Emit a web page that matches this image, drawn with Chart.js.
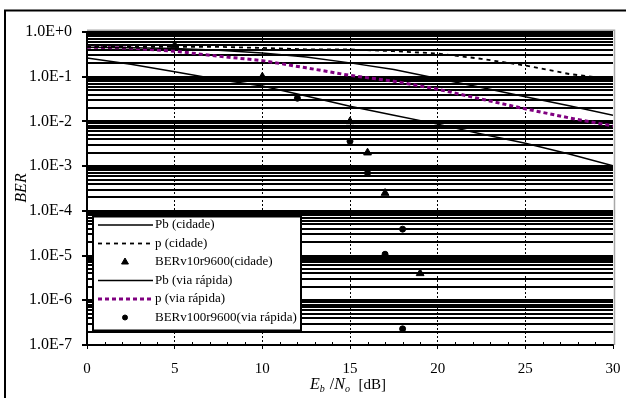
<!DOCTYPE html>
<html>
<head>
<meta charset="utf-8">
<script src="https://cdn.jsdelivr.net/npm/chart.js@4.4.0/dist/chart.umd.min.js"></script>
<style>
    html, body { margin: 0; padding: 0; background: #fff; }
</style>
</head>
<body>
<canvas id="berChart" width="626" height="398"></canvas>
<script>
// curve samples (Eb/No in dB)
const curveX = [0, 2.5, 5, 7.5, 10, 12.5, 15, 17.5, 20, 22.5, 25, 27.5, 30];
const pbCidade = [0.457, 0.447, 0.427, 0.389, 0.339, 0.275, 0.204, 0.145, 0.091, 0.0575, 0.0355, 0.0224, 0.0138];
const pCidade = [0.468, 0.468, 0.468, 0.466, 0.44, 0.41, 0.407, 0.372, 0.331, 0.251, 0.178, 0.115, 0.087];
const pbViaRapida = [0.263, 0.191, 0.129, 0.0871, 0.0617, 0.0372, 0.0219, 0.0138, 0.0087, 0.00525, 0.00324, 0.00186, 0.00102];
const pViaRapida = [0.457, 0.437, 0.372, 0.288, 0.229, 0.158, 0.107, 0.0794, 0.0525, 0.0316, 0.0191, 0.0120, 0.0079];

// simulated points
const berCidadeX = [5, 10, 15, 16, 17, 19];
const berCidadeY = [0.5, 0.1, 0.01, 0.002, 0.00025, 0.000004];
const berViaX = [12, 15, 16, 17, 18, 18];
const berViaY = [0.033, 0.0036, 0.0007, 0.0000107, 0.000039, 0.00000023];

const yTickLabels = ['1.0E-7', '1.0E-6', '1.0E-5', '1.0E-4', '1.0E-3', '1.0E-2', '1.0E-1', '1.0E+0'];
const xTickStep = 5;

const serif = "'Liberation Serif', 'Times New Roman', serif";
const purple = '#800080';

function toPoints(xs, ys) {
    return xs.map((x, i) => ({ x: x, y: ys[i] }));
}

function isDecade(value) {
    const lg = Math.log10(value);
    return Math.abs(lg - Math.round(lg)) < 1e-6;
}

const datasets = [
    {
        label: 'Pb (cidade)', data: toPoints(curveX, pbCidade), showLine: true,
        borderColor: '#000', borderWidth: 1.5, pointRadius: 0
    },
    {
        label: 'p (cidade)', data: toPoints(curveX, pCidade), showLine: true,
        borderColor: '#000', borderWidth: 1.8, borderDash: [4, 4], pointRadius: 0
    },
    {
        label: 'BERv10r9600(cidade)', data: toPoints(berCidadeX, berCidadeY), showLine: false,
        pointStyle: 'triangle', pointRadius: 4.5, backgroundColor: '#000', borderColor: '#000', borderWidth: 1
    },
    {
        label: 'Pb (via rápida)', data: toPoints(curveX, pbViaRapida), showLine: true,
        borderColor: '#000', borderWidth: 1.5, pointRadius: 0
    },
    {
        label: 'p (via rápida)', data: toPoints(curveX, pViaRapida), showLine: true,
        borderColor: purple, borderWidth: 3, borderDash: [4, 3], pointRadius: 0
    },
    {
        label: 'BERv100r9600(via rápida)', data: toPoints(berViaX, berViaY), showLine: false,
        pointStyle: 'circle', pointRadius: 3, backgroundColor: '#000', borderColor: '#000', borderWidth: 1
    }
];

// frame, plot border, minor ticks, axis titles and the boxed legend
const decorPlugin = {
    id: 'decor',
    afterDraw(chart) {
        const ctx = chart.ctx;
        const area = chart.chartArea;
        const xScale = chart.scales.x;

        ctx.save();
        // outer frame (left + top visible)
        ctx.strokeStyle = '#000';
        ctx.lineWidth = 2;
        ctx.beginPath();
        ctx.moveTo(5, 398);
        ctx.lineTo(5, 10.5);
        ctx.lineTo(626, 10.5);
        ctx.stroke();

        // light plot border top/right
        ctx.strokeStyle = '#a8a8a8';
        ctx.lineWidth = 1.5;
        ctx.beginPath();
        ctx.moveTo(area.left, area.top - 1.8);
        ctx.lineTo(area.right + 1.5, area.top - 1.8);
        ctx.lineTo(area.right + 1.5, area.bottom);
        ctx.stroke();

        // minor x ticks pointing inward
        ctx.strokeStyle = '#000';
        ctx.lineWidth = 1;
        xScale.ticks.forEach(t => {
            if (t.value % xTickStep !== 0) {
                const px = Math.round(xScale.getPixelForValue(t.value)) + 0.5;
                ctx.beginPath();
                ctx.moveTo(px, area.bottom);
                ctx.lineTo(px, area.bottom - 3);
                ctx.stroke();
            }
        });

        // y title
        ctx.fillStyle = '#000';
        ctx.font = 'italic 16px ' + serif;
        ctx.textAlign = 'center';
        ctx.textBaseline = 'middle';
        ctx.save();
        ctx.translate(22, 188);
        ctx.rotate(-Math.PI / 2);
        ctx.fillText('BER', 0, 0);
        ctx.restore();

        // x title with subscripts
        const parts = [
            { t: 'E', f: 'italic 16px ', dy: 0 },
            { t: 'b', f: 'italic 10px ', dy: 3 },
            { t: ' /', f: '16px ', dy: 0 },
            { t: 'N', f: 'italic 16px ', dy: 0 },
            { t: 'o', f: 'italic 10px ', dy: 3 },
            { t: '  [dB]', f: '15px ', dy: 0 }
        ];
        ctx.textAlign = 'left';
        ctx.textBaseline = 'alphabetic';
        let tx = 310;
        parts.forEach(p => {
            ctx.font = p.f + serif;
            ctx.fillText(p.t, tx, 389 + p.dy);
            tx += ctx.measureText(p.t).width + (p.t === 'b' || p.t === 'o' ? 1 : 0);
        });

        // legend box
        const box = { left: 93, top: 216.5, right: 301, bottom: 330.5 };
        ctx.fillStyle = '#fff';
        ctx.fillRect(box.left, box.top, box.right - box.left, box.bottom - box.top);
        ctx.strokeStyle = '#000';
        ctx.lineWidth = 2;
        ctx.strokeRect(box.left, box.top, box.right - box.left, box.bottom - box.top);

        ctx.font = '13px ' + serif;
        ctx.textBaseline = 'middle';
        chart.data.datasets.forEach((ds, i) => {
            const y = 225 + i * 18.5;
            if (ds.showLine) {
                ctx.save();
                ctx.strokeStyle = ds.borderColor;
                ctx.lineWidth = ds.borderWidth;
                ctx.setLineDash(ds.borderDash || []);
                ctx.beginPath();
                ctx.moveTo(98, y);
                ctx.lineTo(153, y);
                ctx.stroke();
                ctx.restore();
            } else {
                ctx.fillStyle = '#000';
                ctx.strokeStyle = '#000';
                ctx.lineWidth = 1;
                Chart.helpers.drawPoint(ctx, {
                    pointStyle: ds.pointStyle,
                    radius: ds.pointStyle === 'triangle' ? 4 : 2.5,
                    rotation: 0,
                    borderWidth: 1
                }, 125, y);
            }
            ctx.fillStyle = '#000';
            ctx.fillText(ds.label, 155, y);
        });
        ctx.restore();
    }
};

const ctx = document.getElementById('berChart').getContext('2d');
const berChart = new Chart(ctx, {
    type: 'scatter',
    data: { datasets: datasets },
    options: {
        responsive: false,
        animation: false,
        devicePixelRatio: 1,
        layout: { padding: { top: 32, right: 13, left: 0, bottom: 0 } },
        plugins: {
            legend: { display: false },
            tooltip: { enabled: false }
        },
        elements: { line: { tension: 0 } },
        scales: {
            x: {
                type: 'linear',
                min: 0,
                max: 30,
                afterFit: function(scale) {
                    scale.height = 53;
                    scale.paddingLeft = 0;
                    scale.paddingRight = 0;
                },
                ticks: {
                    stepSize: 1,
                    autoSkip: false,
                    maxRotation: 0,
                    padding: 11,
                    color: '#000',
                    font: { family: serif, size: 15 },
                    callback: v => (v % xTickStep === 0 ? String(v) : '')
                },
                grid: {
                    color: c => (c.tick && c.tick.value % xTickStep === 0 && c.tick.value > 0 && c.tick.value < 30) ? '#000' : 'rgba(0,0,0,0)',
                    lineWidth: 1,
                    tickColor: c => (c.tick && c.tick.value % xTickStep === 0) ? '#000' : 'rgba(0,0,0,0)',
                    tickLength: 4
                },
                border: { color: '#000', width: 2, dash: [2, 2] }
            },
            y: {
                type: 'logarithmic',
                min: 1e-7,
                max: 1,
                afterBuildTicks: function(scale) {
                    const ticks = [];
                    for (let e = -7; e < 0; e++) {
                        for (let m = 1; m < 10; m++) {
                            ticks.push({ value: m * Math.pow(10, e) });
                        }
                    }
                    ticks.push({ value: 1 });
                    scale.ticks = ticks;
                },
                afterFit: function(scale) {
                    scale.width = 87;
                    scale.paddingTop = 0;
                    scale.paddingBottom = 0;
                },
                ticks: {
                    autoSkip: false,
                    padding: 10,
                    color: '#000',
                    font: { family: serif, size: 16 },
                    callback: function(value) {
                        if (!isDecade(value)) return '';
                        return yTickLabels[Math.round(Math.log10(value)) + 7];
                    }
                },
                grid: {
                    color: '#000',
                    lineWidth: 2,
                    tickColor: c => (c.tick && isDecade(c.tick.value)) ? '#000' : 'rgba(0,0,0,0)',
                    tickLength: 5
                },
                border: { color: '#000', width: 2 }
            }
        }
    },
    plugins: [decorPlugin]
});
</script>
</body>
</html>
